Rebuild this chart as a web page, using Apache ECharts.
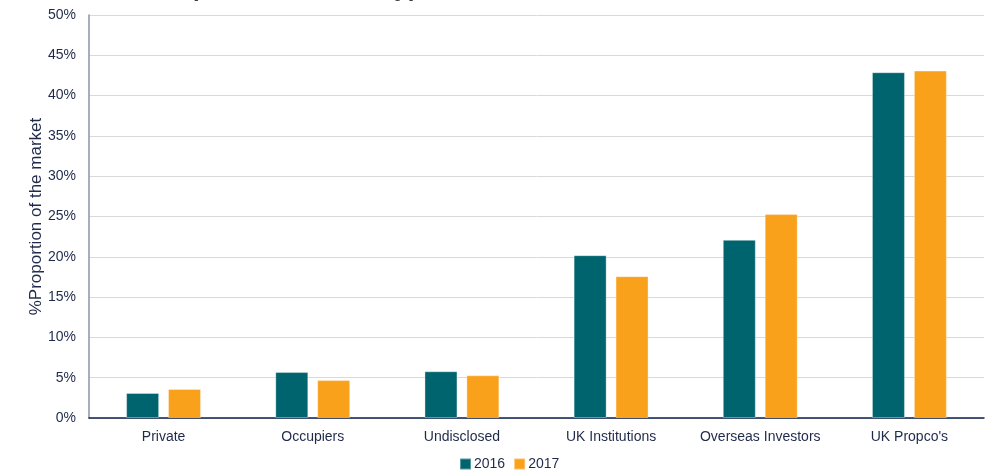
<!DOCTYPE html>
<html>
<head>
<meta charset="utf-8">
<script src="https://cdn.jsdelivr.net/npm/echarts@6/dist/echarts.min.js"></script>
<style>html,body{margin:0;padding:0;background:#fff}#c{width:994px;height:470px}</style>
</head>
<body>
<div id="c"></div>
<script>
var categories = ["Private", "Occupiers", "Undisclosed", "UK Institutions", "Overseas Investors", "UK Propco's"];
var values2016 = [3.1, 5.7, 5.8, 20.2, 22.1, 42.9];
var values2017 = [3.6, 4.7, 5.3, 17.6, 25.3, 43.1];
var seriesNames = ["2016", "2017"];
var yTicks = [0, 5, 10, 15, 20, 25, 30, 35, 40, 45, 50];

var txt = '#1f2a4a';
var chart = echarts.init(document.getElementById('c'));
chart.setOption({
  animation: false,
  title: {
    text: 'Spend of investor type',
    left: 172, top: -28,
    textStyle: {fontFamily: 'Liberation Sans', fontSize: 24, fontWeight: 'bold', color: '#404040', lineHeight: 24}
  },
  grid: {left: 89, right: 10, top: 15, bottom: 52},
  legend: {
    data: seriesNames, left: 459, top: 457, padding: 0,
    itemWidth: 11, itemHeight: 11, itemGap: 8, icon: 'rect',
    textStyle: {fontFamily: 'Liberation Sans', fontSize: 14, color: txt, padding: [0, 0, 0, -2]}
  },
  xAxis: {
    type: 'category', data: categories,
    axisLine: {lineStyle: {color: '#0b1f4d', width: 1.5}},
    axisTick: {show: false},
    axisLabel: {fontFamily: 'Liberation Sans', fontSize: 14, color: txt, margin: 12, interval: 0}
  },
  yAxis: {
    type: 'value', min: yTicks[0], max: yTicks[yTicks.length - 1], interval: 5,
    name: '%Proportion of the market', nameLocation: 'middle', nameGap: 44, nameMoveOverlap: false,
    nameTextStyle: {fontFamily: 'Liberation Sans', fontSize: 17, color: txt},
    axisLine: {show: true, lineStyle: {color: '#8a93a8', width: 1.5}},
    axisTick: {show: false},
    axisLabel: {fontFamily: 'Liberation Sans', fontSize: 14, color: txt, margin: 13, formatter: '{value}%'},
    splitLine: {lineStyle: {color: '#d9d9d9', width: 1}}
  },
  series: [
    {name: seriesNames[0], type: 'bar', data: values2016, barWidth: 33, barGap: '27%',
     itemStyle: {color: '#00646e', borderColor: 'rgba(255,255,255,0.35)', borderWidth: 1}},
    {name: seriesNames[1], type: 'bar', data: values2017, barWidth: 33,
     itemStyle: {color: '#f9a11b', borderColor: 'rgba(255,255,255,0.35)', borderWidth: 1}}
  ]
});
</script>
</body>
</html>
